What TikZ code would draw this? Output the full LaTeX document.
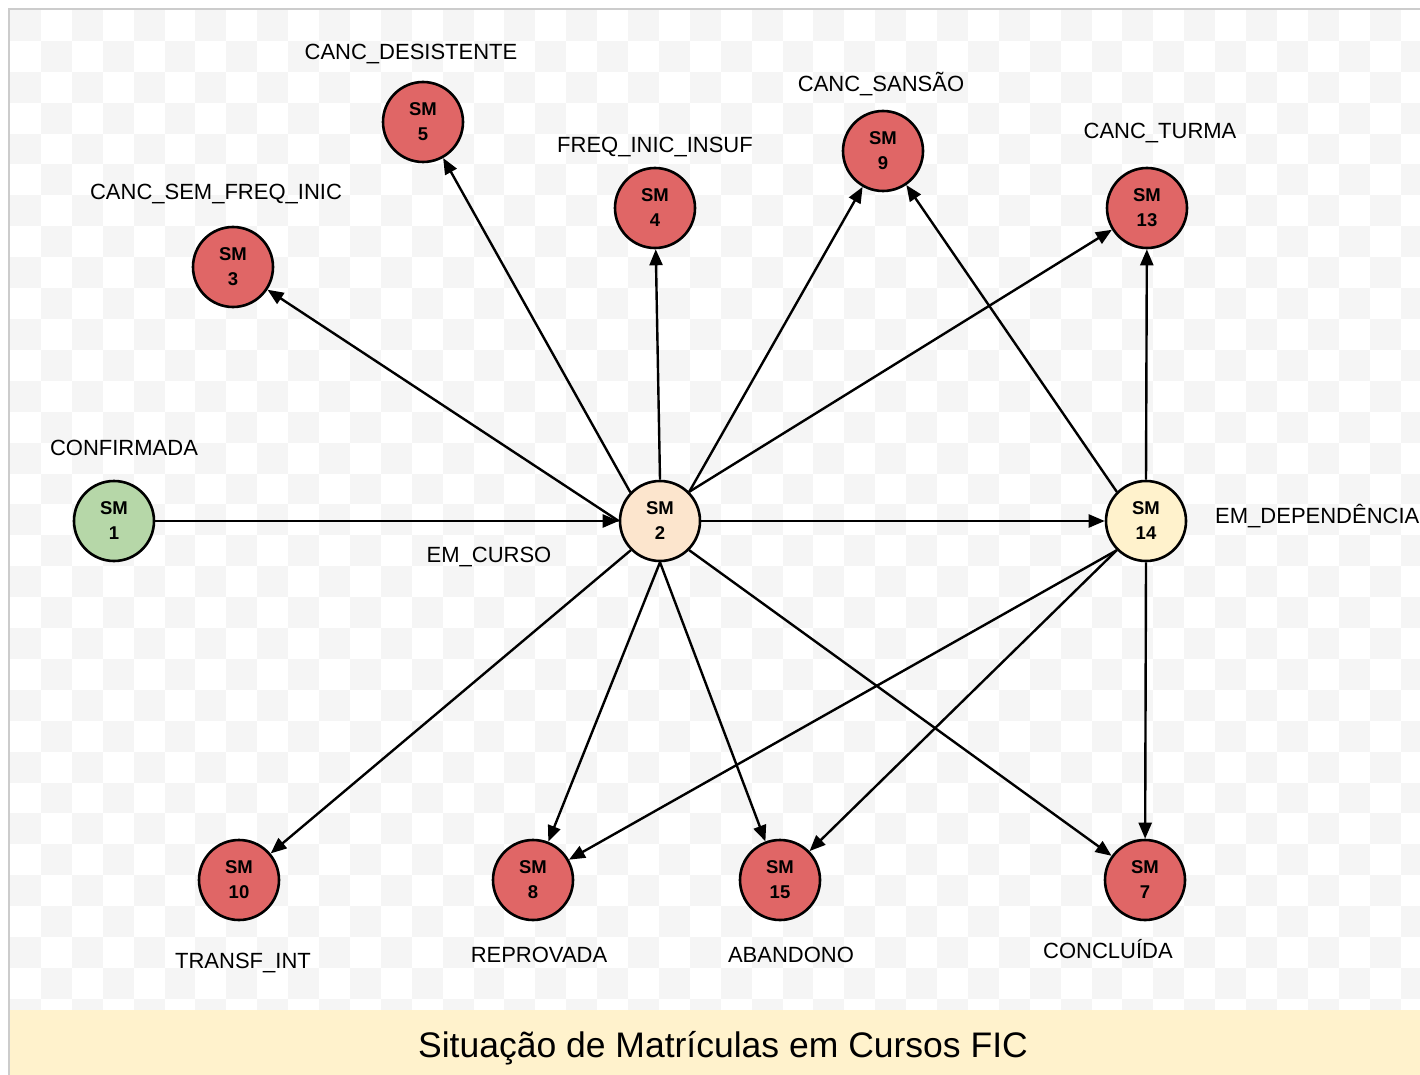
\documentclass[tikz,border=0pt]{standalone}
\usepackage{fontspec}
\setmainfont{Liberation Sans}
\usetikzlibrary{arrows.meta}
\definecolor{redf}{HTML}{E06666}
\definecolor{greenf}{HTML}{B6D7A8}
\definecolor{peachf}{HTML}{FCE5CD}
\definecolor{creamf}{HTML}{FFF2CC}
\definecolor{checker}{HTML}{F5F5F5}
\begin{document}
\begin{tikzpicture}[x=1pt,y=-1pt,
  sm/.style={circle, draw=black, line width=2.6pt, minimum size=80pt, inner sep=0pt, align=center,
    font=\fontsize{18.5}{25}\selectfont\bfseries},
  smred/.style={sm, fill=redf},
  lbl/.style={anchor=base, font=\fontsize{22}{26}\selectfont, inner sep=0pt},
  edge/.style={line width=2.4pt, -{Triangle[length=16pt,width=13pt]}}]
\useasboundingbox (0,0) rectangle (1420,1075);
\fill[white] (0,0) rectangle (1420,1075);
% checkerboard background
\begin{scope}
\clip (10,10) rectangle (1420,1010);
\foreach \i in {0,...,45} {
  \foreach \j in {0,...,32} {
    \pgfmathtruncatemacro\myodd{mod(\i+\j,2)}
    \ifnum\myodd=0
      \fill[checker] (10+30.9*\i,10+30.9*\j) rectangle ++(30.9,30.9);
    \fi
  }
}
\end{scope}
% frame
\draw[gray!40, line width=2.5pt] (9,1080) -- (9,9) -- (1425,9);
% banner
\fill[creamf] (10,1010) rectangle (1420,1075);
\node[anchor=base, inner sep=0pt, font=\fontsize{35.5}{40}\selectfont] (title) at (723,1057) {Situação de Matrículas em Cursos FIC};

% nodes
\node[sm, fill=greenf] (s1) at (114,521) {SM\\1};
\node[sm, fill=peachf] (s2) at (660,521) {SM\\2};
\node[sm, fill=creamf] (s14) at (1146,521) {SM\\14};
\node[smred] (s3) at (233,267) {SM\\3};
\node[smred] (s5) at (423,122) {SM\\5};
\node[smred] (s4) at (655,208) {SM\\4};
\node[smred] (s9) at (883,151) {SM\\9};
\node[smred] (s13) at (1147,208) {SM\\13};
\node[smred] (s10) at (239,880) {SM\\10};
\node[smred] (s8) at (533,880) {SM\\8};
\node[smred] (s15) at (780,880) {SM\\15};
\node[smred] (s7) at (1145,880) {SM\\7};

% labels
\node[lbl] (l5) at (411,60) {CANC\_DESISTENTE};
\node[lbl] (l3) at (216,200) {CANC\_SEM\_FREQ\_INIC};
\node[lbl] (l4) at (655,153) {FREQ\_INIC\_INSUF};
\node[lbl] (l9) at (881,92) {CANC\_SANSÃO};
\node[lbl] (l13) at (1160,139) {CANC\_TURMA};
\node[lbl] (l1) at (124,455) {CONFIRMADA};
\node[lbl] (l2) at (489,562) {EM\_CURSO};
\node[lbl, anchor=base west] (l14) at (1215,523) {EM\_DEPENDÊNCIA};
\node[lbl] (l10) at (243,968) {TRANSF\_INT};
\node[lbl] (l8) at (539,962) {REPROVADA};
\node[lbl] (l15) at (791,962) {ABANDONO};
\node[lbl] (l7) at (1108,958) {CONCLUÍDA};

% edges
\draw[edge] (s1) -- (s2);
\draw[edge] (s2.west) -- (s3);
\draw[edge] (s2.136) -- (s5);
\draw[edge] (s2.north) -- (s4);
\draw[edge] (s2.45) -- (s9);
\draw[edge] (s2.45) -- (s13);
\draw[edge] (s2.east) -- (s14);
\draw[edge] (s2.225) -- (s10);
\draw[edge] (s2.south) -- (s8);
\draw[edge] (s2.south) -- (s15);
\draw[edge] (s2.315) -- (s7);
\draw[edge] (s14.135) -- (s9);
\draw[edge] (s14.north) -- (s13);
\draw[edge] (s14.225) -- (s8);
\draw[edge] (s14.225) -- (s15);
\draw[edge] (s14.south) -- (s7);
\end{tikzpicture}
\end{document}
